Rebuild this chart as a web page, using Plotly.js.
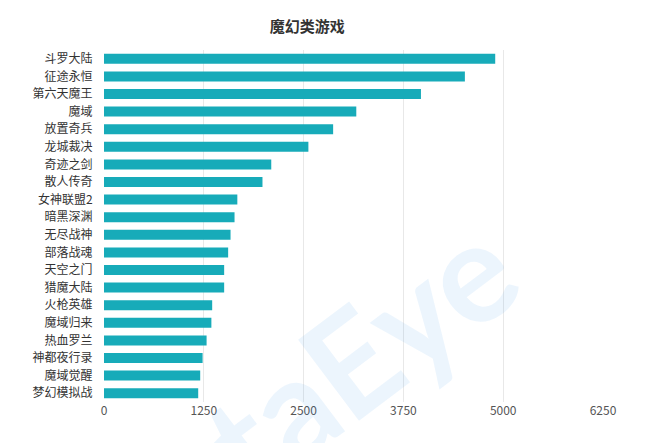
<!DOCTYPE html>
<html>
<head>
<meta charset="utf-8">
<script src="https://cdn.plot.ly/plotly-3.0.1.min.js"></script>
<style>
  html, body { margin: 0; padding: 0; background: #fff; }
  #chart { width: 654px; height: 443px; }
</style>
</head>
<body>
<div id="chart"></div>
<script>
// games, top to bottom as shown
var games = ['斗罗大陆', '征途永恒', '第六天魔王', '魔域', '放置奇兵', '龙城裁决', '奇迹之剑',
    '散人传奇', '女神联盟2', '暗黑深渊', '无尽战神', '部落战魂', '天空之门', '猎魔大陆',
    '火枪英雄', '魔域归来', '热血罗兰', '神都夜行录', '魔域觉醒', '梦幻模拟战'];
var values = [4900, 4520, 3970, 3160, 2870, 2560, 2095, 1985, 1670, 1635,
    1585, 1555, 1505, 1505, 1355, 1345, 1285, 1235, 1205, 1180];
var tickVals = [0, 1250, 2500, 3750, 5000, 6250];

var font = '"Noto Sans CJK SC", "Noto Sans", sans-serif';

var data = [{
    type: 'bar',
    orientation: 'h',
    x: values,
    y: games,
    marker: { color: '#17abb9' },
    hoverinfo: 'x+y'
}];

var layout = {
    width: 654,
    height: 443,
    margin: { l: 104, r: 51, t: 50, b: 41 },
    paper_bgcolor: '#fff',
    plot_bgcolor: '#fff',
    bargap: 0.43,
    showlegend: false,
    font: { family: font, size: 12, color: '#333' },
    title: {
        text: '<b>魔幻类游戏</b>',
        font: { family: font, size: 15, color: '#333' },
        xref: 'container',
        x: 0.47,
        xanchor: 'center',
        y: 0.94,
        yanchor: 'middle'
    },
    xaxis: {
        range: [0, 6250],
        tickvals: tickVals,
        ticktext: tickVals.map(String),
        showgrid: true,
        gridcolor: '#e8e8e8',
        gridwidth: 1,
        zeroline: false,
        showline: false,
        ticks: '',
        tickfont: { family: font, size: 12, color: '#555' },
        fixedrange: true
    },
    yaxis: {
        autorange: 'reversed',
        showgrid: false,
        zeroline: false,
        showline: false,
        ticks: 'outside',
        ticklen: 8,
        tickcolor: 'rgba(0,0,0,0)',
        tickfont: { family: font, size: 12, color: '#333' },
        fixedrange: true
    },
    // faint watermark, mostly off the bottom edge
    annotations: [{
        text: '<b>DataEye</b>',
        xref: 'paper', yref: 'paper',
        x: 0.37, y: -0.01,
        xanchor: 'center', yanchor: 'middle',
        showarrow: false,
        textangle: -37,
        font: { family: 'Lato, sans-serif', size: 140, color: 'rgba(40,140,230,0.09)' }
    }]
};

Plotly.newPlot('chart', data, layout, { displayModeBar: false, responsive: false });
</script>
</body>
</html>
